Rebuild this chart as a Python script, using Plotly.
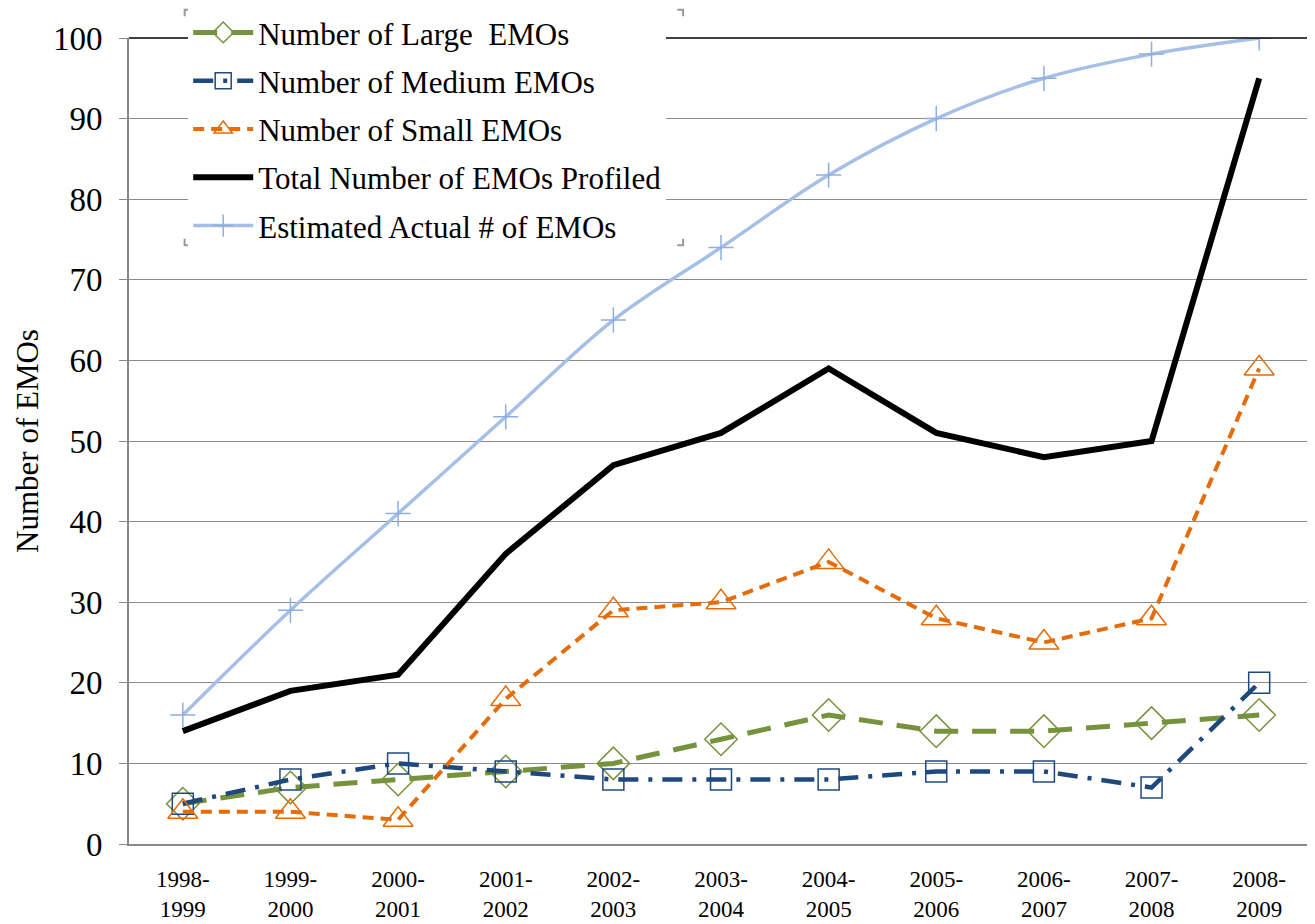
import plotly.graph_objects as go

years = ["1998-<br>1999", "1999-<br>2000", "2000-<br>2001", "2001-<br>2002", "2002-<br>2003",
         "2003-<br>2004", "2004-<br>2005", "2005-<br>2006", "2006-<br>2007", "2007-<br>2008", "2008-<br>2009"]
large = [5, 7, 8, 9, 10, 13, 16, 14, 14, 15, 16]
medium = [5, 8, 10, 9, 8, 8, 8, 9, 9, 7, 20]
small = [4, 4, 3, 18, 29, 30, 35, 28, 25, 28, 59]
total = [14, 19, 21, 36, 47, 51, 59, 51, 48, 50, 95]
estimated = [16, 29, 41, 53, 65, 74, 83, 90, 95, 98, 100]

x = list(range(len(years)))
font = "Liberation Serif"

fig = go.Figure()
fig.add_trace(go.Scatter(x=x, y=large, name="Number of Large  EMOs", mode="lines+markers", legendgroup="a",
                         line=dict(color="#76923c", width=5, dash="24px,14px"),
                         marker=dict(symbol="diamond-open", size=25, color="#76923c", line=dict(width=1.5))))
fig.add_trace(go.Scatter(x=x, y=medium, name="Number of Medium EMOs", mode="lines+markers", legendgroup="b",
                         line=dict(color="#1f497d", width=4.5, dash="20px,10px,4px,10px"),
                         marker=dict(symbol="square-open", size=21, color="#1f497d", line=dict(width=1.5))))
fig.add_trace(go.Scatter(x=x, y=small, name="Number of Small EMOs", mode="lines+markers", legendgroup="c",
                         line=dict(color="#e46c0a", width=4, dash="11px,7px"),
                         marker=dict(symbol="triangle-up-open", size=26, color="#e46c0a", line=dict(width=1.5))))
fig.add_trace(go.Scatter(x=x, y=total, name="Total Number of EMOs Profiled", mode="lines", legendgroup="d",
                         line=dict(color="black", width=6)))
fig.add_trace(go.Scatter(x=x, y=estimated, name="Estimated Actual # of EMOs", mode="lines+markers", legendgroup="e",
                         line=dict(color="#a6bfe6", width=3.5, shape="spline"),
                         marker=dict(symbol="cross-thin-open", size=18, color="#8eaee2", line=dict(width=1.5))))

# the page body adds an 8px offset, so the figure is sized to fit the window
fig.update_layout(
    width=1307, height=916,
    margin=dict(l=121, r=2, t=30, b=80, autoexpand=False),
    paper_bgcolor="white", plot_bgcolor="white",
    font=dict(family=font, color="black"),
    showlegend=True,
    legend=dict(x=0.05, y=1.04, xanchor="left", yanchor="top", bgcolor="white",
                font=dict(size=31, family=font), tracegroupgap=5, itemwidth=60,
                traceorder="grouped"),
    xaxis=dict(tickmode="array", tickvals=x, ticktext=years, range=[-0.5, 10.5],
               showgrid=False, showline=True, linecolor="#888888", linewidth=2,
               ticks="", tickfont=dict(size=23, family=font), mirror=False, zeroline=False,
               ticklabelstandoff=13, automargin=False),
    yaxis=dict(range=[0, 100], dtick=10, showgrid=True, gridcolor="#8c8c8c", gridwidth=1.2,
               showline=True, linecolor="#888888", linewidth=2, ticks="outside", ticklen=8,
               tickcolor="#888888", tickfont=dict(size=33, family=font), zeroline=False,
               ticklabelstandoff=10, automargin=False,
               title=dict(text="Number of EMOs", font=dict(size=31, family=font), standoff=5)),
)
# top and right black border
fig.add_shape(type="line", xref="paper", yref="paper", x0=0, x1=1, y0=1, y1=1,
              line=dict(color="black", width=1.5))
fig.add_shape(type="line", xref="paper", yref="paper", x0=1, x1=1, y0=0, y1=1,
              line=dict(color="black", width=1.5))

# small corner brackets around the legend box
lx0, lx1, ly0, ly1 = 0.047, 0.468, 0.743, 1.035
dx, dy = 0.005, 0.008
corner_color = "#999999"
for cx, sx in ((lx0, 1), (lx1, -1)):
    for cy, sy in ((ly1, -1), (ly0, 1)):
        fig.add_shape(type="path", xref="paper", yref="paper",
                      path=f"M {cx + sx*dx} {cy} L {cx} {cy} L {cx} {cy + sy*dy}",
                      line=dict(color=corner_color, width=2))

fig.write_html("out.html")
